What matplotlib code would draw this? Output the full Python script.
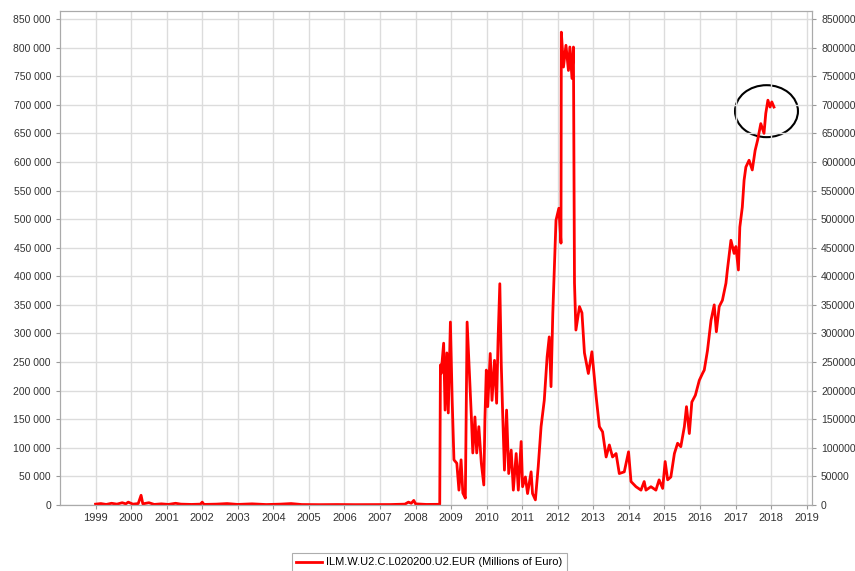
import numpy as np
import matplotlib.pyplot as plt
from matplotlib.patches import Ellipse
from matplotlib.ticker import FuncFormatter

plt.rcParams['font.family'] = ['Liberation Sans', 'DejaVu Sans']

# Deposit facility, millions of euro (decimal years)
dates = [
    1999.00, 1999.15, 1999.30, 1999.45, 1999.60, 1999.75, 1999.85, 1999.92,
    2000.05, 2000.20, 2000.28, 2000.33, 2000.50, 2000.65, 2000.85, 2001.05,
    2001.25, 2001.40, 2001.70, 2001.95, 2002.00, 2002.05, 2002.40, 2002.70,
    2003.00, 2003.40, 2003.80, 2004.20, 2004.50, 2004.80, 2005.30, 2005.80,
    2006.30, 2006.80, 2007.30, 2007.70, 2007.80, 2007.88, 2007.95, 2008.00,
    2008.30, 2008.68,
    2008.70, 2008.72, 2008.79, 2008.83, 2008.88, 2008.92, 2008.98, 2009.03,
    2009.08, 2009.16, 2009.22, 2009.28, 2009.33, 2009.40, 2009.45, 2009.52,
    2009.57, 2009.61, 2009.67, 2009.72, 2009.78, 2009.85, 2009.92, 2009.95,
    2009.99, 2010.03, 2010.10, 2010.15, 2010.22, 2010.28, 2010.32, 2010.37,
    2010.41, 2010.45, 2010.50, 2010.56, 2010.62, 2010.69, 2010.75, 2010.83,
    2010.89, 2010.97, 2011.01, 2011.09, 2011.15, 2011.25, 2011.29, 2011.37,
    2011.45, 2011.53, 2011.62, 2011.70, 2011.76, 2011.81, 2011.86, 2011.91,
    2011.95, 2012.03, 2012.09, 2012.10, 2012.16, 2012.23, 2012.30, 2012.34,
    2012.40, 2012.44, 2012.47, 2012.51, 2012.61, 2012.68, 2012.75, 2012.80,
    2012.86, 2012.96, 2013.08, 2013.17, 2013.26, 2013.36, 2013.45, 2013.54,
    2013.64, 2013.73, 2013.87, 2013.99, 2014.06, 2014.20, 2014.34, 2014.43,
    2014.48, 2014.62, 2014.76, 2014.85, 2014.95, 2015.02, 2015.09, 2015.18,
    2015.28, 2015.37, 2015.46, 2015.56, 2015.62, 2015.70, 2015.77, 2015.87,
    2015.98, 2016.07, 2016.12, 2016.21, 2016.31, 2016.40, 2016.46, 2016.54,
    2016.63, 2016.73, 2016.77, 2016.87, 2016.96, 2017.01, 2017.08, 2017.12,
    2017.19, 2017.24, 2017.29, 2017.38, 2017.47, 2017.55, 2017.62, 2017.71,
    2017.80, 2017.85, 2017.91, 2017.97, 2018.02, 2018.08,
]
values = [
    1500, 2500, 1000, 3000, 1500, 4000, 2000, 5000,
    1500, 2500, 17000, 2000, 4000, 1000, 2000, 1000,
    3000, 1500, 1000, 1500, 5000, 1000, 1500, 2500,
    1000, 2000, 800, 1500, 2500, 800, 600, 800,
    600, 700, 800, 1500, 5000, 3000, 8000, 2000,
    1000, 1200,
    245000, 230000, 283000, 166000, 266000, 161000, 320000, 183000,
    79000, 73000, 26000, 79000, 21000, 12000, 320000, 224000,
    154000, 91000, 154000, 91000, 137000, 73000, 35000, 149000,
    236000, 172000, 265000, 183000, 253000, 178000, 288000, 387000,
    248000, 160000, 61000, 166000, 55000, 96000, 26000, 90000,
    26000, 111000, 32000, 49000, 20000, 58000, 20000, 9000,
    67000, 137000, 183000, 259000, 294000, 207000, 335000, 428000,
    498000, 519000, 458000, 827000, 766000, 804000, 760000, 801000,
    746000, 801000, 388000, 306000, 347000, 336000, 266000, 250000,
    230000, 268000, 189000, 137000, 128000, 84000, 105000, 84000,
    90000, 55000, 58000, 93000, 41000, 32000, 26000, 41000,
    26000, 32000, 26000, 44000, 29000, 76000, 44000, 49000,
    90000, 108000, 102000, 137000, 172000, 125000, 180000, 192000,
    218000, 230000, 236000, 270000, 323000, 350000, 303000, 347000,
    358000, 388000, 411000, 463000, 440000, 452000, 411000, 486000,
    521000, 568000, 591000, 603000, 586000, 620000, 638000, 667000,
    650000, 685000, 708000, 696000, 705000, 696000,
]

years = list(range(1999, 2020))
y_ticks = list(range(0, 850001, 50000))
legend_label = "ILM.W.U2.C.L020200.U2.EUR (Millions of Euro)"

fig = plt.figure(figsize=(8.55, 5.71), dpi=100)
ax = fig.add_axes([60 / 855, 1 - 505 / 571, 752 / 855, 494 / 571])

ax.plot(dates, values, color='#ff0000', lw=2.0, label=legend_label)

ax.set_xlim(1998.0, 2019.15)
ax.set_ylim(0, 864000)
ax.set_xticks(years)
ax.set_xticklabels([str(y) for y in years], fontsize=8, color='#333333')
ax.set_yticks(y_ticks)
ax.yaxis.set_major_formatter(FuncFormatter(lambda v, p: f"{v:,.0f}".replace(",", " ")))
ax.tick_params(axis='y', labelsize=7.5, labelcolor='#333333', length=3, color='#999999')
ax.tick_params(axis='x', length=3, color='#999999', pad=3)
ax.grid(True, color='#dcdcdc', lw=1)
for s in ax.spines.values():
    s.set_color('#aaaaaa')

ax2 = ax.twinx()
ax2.set_ylim(ax.get_ylim())
ax2.set_yticks(y_ticks)
ax2.yaxis.set_major_formatter(FuncFormatter(lambda v, p: f"{v:.0f}"))
ax2.tick_params(axis='y', labelsize=7.5, labelcolor='#333333', length=3, color='#999999')
for s in ax2.spines.values():
    s.set_color('#aaaaaa')

# circle around the latest peak
ax.add_patch(Ellipse((2017.87, 688800), 1.77, 90900, fill=False, ec='black', lw=1.5))

leg = fig.legend(loc='upper left', bbox_to_anchor=(292 / 855, 1 - 553 / 571),
                 fontsize=8, frameon=True, fancybox=False, borderpad=0.4,
                 borderaxespad=0, handlelength=2.3, handletextpad=0.4)
leg.get_frame().set_edgecolor('#999999')
leg.get_frame().set_linewidth(0.8)

fig.savefig('out.png', dpi=100)
